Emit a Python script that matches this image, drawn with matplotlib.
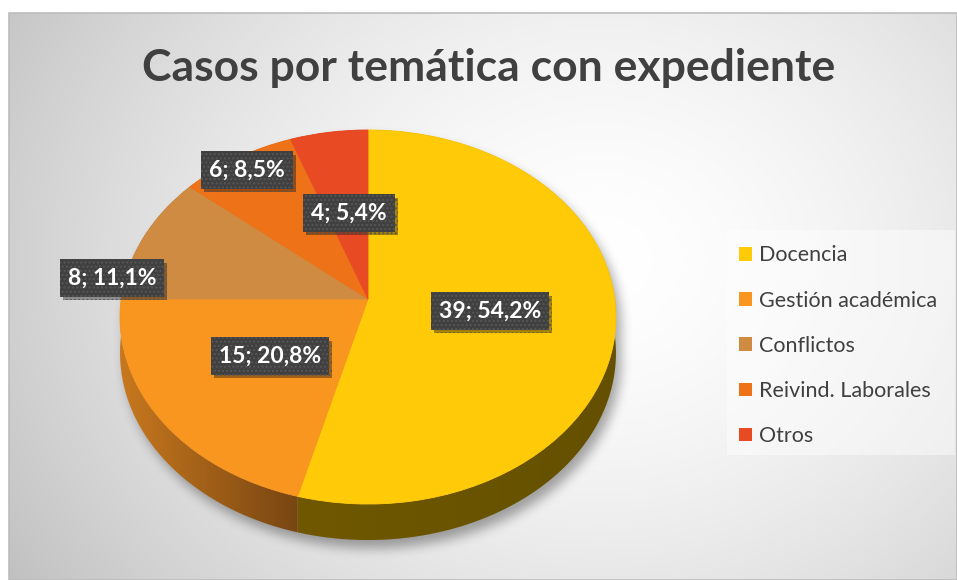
"""
3D-looking pie chart of cases per topic, drawn on a pixel-sized canvas.
"""
import numpy as np
import matplotlib
matplotlib.use("Agg")
import matplotlib.pyplot as plt
import matplotlib.transforms as mtransforms
import matplotlib.patheffects as pe
from matplotlib.patches import Patch, Polygon, Rectangle
from matplotlib.colors import LinearSegmentedColormap

plt.rcParams["font.family"] = ["Lato", "DejaVu Sans"]

TITLE = "Casos por temática con expediente"
CATEGORIES = ["Docencia", "Gestión académica", "Conflictos",
              "Reivind. Laborales", "Otros"]
CASES = [39, 15, 8, 6, 4]
PERCENT_LABELS = ["54,2%", "20,8%", "11,1%", "8,5%", "5,4%"]

COLORS = ["#ffca08", "#f8961f", "#cf8b42", "#ee7318", "#e84b23"]
SIDE_COLORS = [("#705800", "#645000"), ("#c8781e", "#784612"),
               ("#7a5228", "#6a4622"), ("#8a4410", "#783a0c"),
               ("#8a2c14", "#782610")]
TEXT_COLOR = "#404040"

# canvas / pie geometry in pixels
W, H = 957, 580
APEX_X, APEX_Y = 368, 299
RAD_X, RAD_Y = 246.8, 185.3
PERSP = -0.0963
DEPTH = 36
LABEL_XY = [(490, 311), (270, 356), (112, 278), (247, 170), (349, 213)]


def tilt(x, y, drop=0.0):
    """Project unit-circle coordinates onto the tilted pie (pixels)."""
    yn = -np.asarray(y, dtype=float)
    w = 1 + PERSP * yn
    return APEX_X + RAD_X * np.asarray(x) / w, APEX_Y + RAD_Y * yn / w + drop


class Tilt(mtransforms.Transform):
    input_dims = output_dims = 2
    is_separable = False
    has_inverse = False

    def __init__(self, drop=0.0):
        super().__init__()
        self.drop = drop

    def transform_non_affine(self, values):
        values = np.asarray(values, dtype=float)
        px, py = tilt(values[:, 0], values[:, 1], self.drop)
        return np.column_stack([px, py])


def inside_pie(x, y):
    xr = x - APEX_X
    yr = y - APEX_Y
    yn = yr / (RAD_Y - PERSP * yr)
    xu = xr * (1 + PERSP * yn) / RAD_X
    return xu ** 2 + yn ** 2 <= 1


def blur(a, r, passes=3):
    k = np.ones(2 * r + 1) / (2 * r + 1)
    for _ in range(passes):
        a = np.apply_along_axis(lambda m: np.convolve(m, k, mode="same"), 0, a)
        a = np.apply_along_axis(lambda m: np.convolve(m, k, mode="same"), 1, a)
    return a


fig = plt.figure(figsize=(W / 100, H / 100), dpi=100)
fig.patch.set_facecolor("white")
ax = fig.add_axes([0, 0, 1, 1])

# background: soft radial gradient
gy, gx = np.mgrid[13:H, 9:W] + 0.5
r = np.hypot((gx - 600) / 620, (gy - 260) / 520)
shade = np.clip(1 - 0.2 * r ** 1.6, 0, 1)
ax.imshow(np.dstack([shade] * 3), extent=(9, W, H, 13), aspect="auto",
          interpolation="bilinear", zorder=0)
ax.add_patch(Rectangle((9, 13), W - 9, H - 13, fill=False,
                       edgecolor="#bcbcbc", lw=1.2, zorder=0.5))

# soft shadow under the pie
py, px = np.mgrid[0:H, 0:W] + 0.5
mask = np.zeros((H, W), dtype=bool)
for d in range(0, DEPTH + 1, 3):
    mask |= inside_pie(px - 5, py - 8 - d)
alpha = 0.34 * blur(mask.astype(float), 5)
shadow = np.zeros((H, W, 4))
shadow[..., 3] = alpha
ax.imshow(shadow, extent=(0, W, H, 0), aspect="auto", zorder=1)

# pie side walls
bounds = np.cumsum([0] + CASES) / sum(CASES) * 360
for i in range(len(CASES)):
    t = np.radians(90 - np.linspace(bounds[i], bounds[i + 1], 120))
    tx, ty = tilt(np.cos(t), np.sin(t))
    bx, by = tilt(np.cos(t), np.sin(t), DEPTH)
    verts = np.column_stack([np.r_[tx, bx[::-1]], np.r_[ty, by[::-1]]])
    poly = Polygon(verts, closed=True, facecolor="none", edgecolor="none",
                   zorder=2)
    ax.add_patch(poly)
    cmap = LinearSegmentedColormap.from_list(f"side{i}", SIDE_COLORS[i])
    x0, x1 = verts[:, 0].min(), verts[:, 0].max()
    y0, y1 = verts[:, 1].min(), verts[:, 1].max()
    im = ax.imshow(np.linspace(0, 1, 64)[None, :], cmap=cmap,
                   extent=(x0 - 1, x1 + 1, y1 + 1, y0 - 1), aspect="auto",
                   zorder=2)
    im.set_clip_path(poly)

# pie top
wedges, _ = ax.pie(CASES, colors=COLORS, startangle=90, counterclock=False,
                   wedgeprops=dict(linewidth=0.6))
for w in wedges:
    w.set_edgecolor(w.get_facecolor())
    w.set_transform(Tilt() + ax.transData)
    w.set_zorder(3)

# data labels (dark dotted boxes with a drop shadow)
for (lx, ly), n, p in zip(LABEL_XY, CASES, PERCENT_LABELS):
    txt = ax.text(lx, ly, f"{n}; {p}", ha="center", va="center",
                  fontsize=16.5, weight="bold", color="white", zorder=5,
                  bbox=dict(boxstyle="square,pad=0.35", facecolor="#404040",
                            edgecolor="#565656", linewidth=0, hatch="...."))
    txt.get_bbox_patch().set_path_effects([
        pe.SimplePatchShadow(offset=(2.2, -2.2), shadow_rgbFace="black",
                             alpha=0.35),
        pe.Normal()])

# title
ax.text(489, 68, TITLE, ha="center", va="center", fontsize=32,
        weight="bold", color=TEXT_COLOR, zorder=5)

# legend
ax.add_patch(Rectangle((727, 230), 228, 225, facecolor="white", alpha=0.45,
                       edgecolor="none", zorder=4))
handles = [Patch(facecolor=c) for c in COLORS]
ax.legend(handles, CATEGORIES, loc="upper left", bbox_to_anchor=(720, 226),
          bbox_transform=ax.transData, frameon=False, fontsize=15.5,
          handlelength=0.6, handleheight=0.6, handletextpad=0.3,
          labelspacing=1.17, labelcolor=TEXT_COLOR)

ax.set_aspect("auto")
ax.set_xlim(0, W)
ax.set_ylim(H, 0)
ax.axis("off")

fig.savefig("out.png", dpi=100)
